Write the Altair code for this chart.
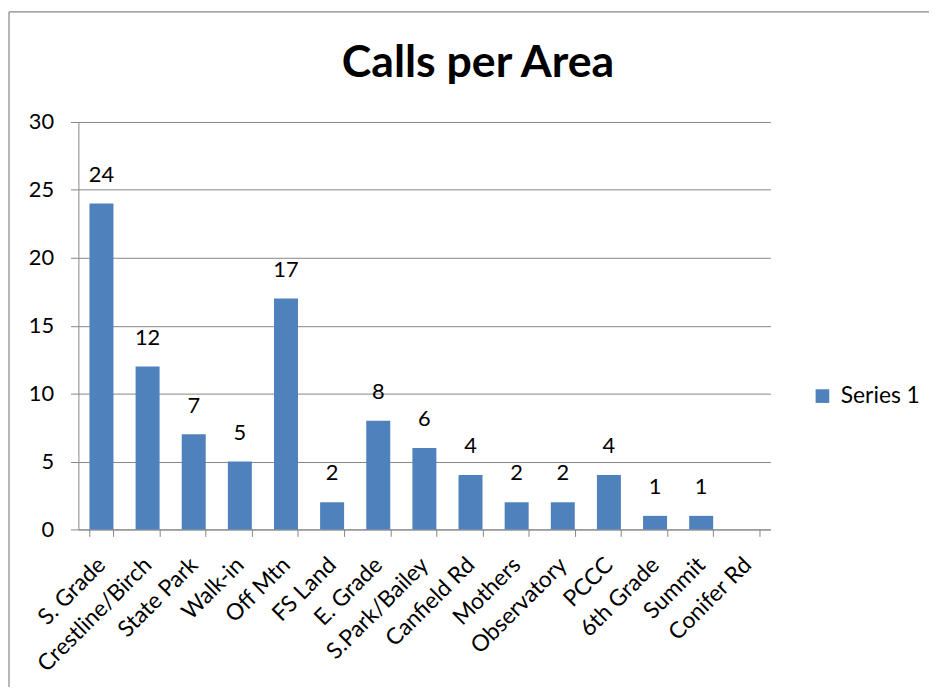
import altair as alt
import pandas as pd

categories = ["S. Grade", "Crestline/Birch", "State Park", "Walk-in", "Off Mtn",
              "FS Land", "E. Grade", "S.Park/Bailey", "Canfield Rd", "Mothers",
              "Observatory", "PCCC", "6th Grade", "Summit", "Conifer Rd"]
calls = [24, 12, 7, 5, 17, 2, 8, 6, 4, 2, 2, 4, 1, 1, None]
series_name = "Series 1"
title_text = "Calls per Area"
y_ticks = [0, 5, 10, 15, 20, 25, 30]

df = pd.DataFrame({"area": categories, "calls": calls, "series": [series_name] * len(categories)})

FONT = "Lato"
GRAY = "#868686"
BLUE = "#4F81BD"

x_enc = alt.X("area:N", sort=categories,
              scale=alt.Scale(domain=categories, paddingInner=0.48, paddingOuter=0.24),
              axis=alt.Axis(title=None, labelAngle=-45, labelAlign="right", labelBaseline="middle",
                            labelFontSize=23, labelFont=FONT, labelColor="black", labelPadding=25,
                            tickBand="extent", tickSize=7, tickColor=GRAY, domainColor=GRAY,
                            grid=False, labelLimit=300))
y_enc = alt.Y("calls:Q",
              scale=alt.Scale(domain=[0, 30], nice=False),
              axis=alt.Axis(title=None, values=y_ticks, labelFontSize=22, labelFont=FONT,
                            labelColor="black", labelPadding=17, tickSize=8, tickColor=GRAY,
                            domainColor=GRAY, gridColor=GRAY, gridOpacity=1))

bars = alt.Chart(df).mark_bar(color=BLUE).encode(
    x=x_enc, y=y_enc,
    color=alt.Color("series:N", scale=alt.Scale(range=[BLUE]),
                    legend=alt.Legend(title=None, orient="none", legendX=739, legendY=265,
                                      symbolType="square", symbolSize=190, symbolStrokeWidth=0,
                                      labelFontSize=23, labelFont=FONT, labelColor="black",
                                      labelOffset=7)),
)

labels = alt.Chart(df).mark_text(baseline="bottom", dy=-17, fontSize=22, font=FONT, color="black").encode(
    x=alt.X("area:N", sort=categories), y="calls:Q", text="calls:Q"
)

frame_df = pd.DataFrame({"k": [0]})
left_line = alt.Chart(frame_df).mark_rule(color=GRAY, strokeWidth=1.2).encode(
    x=alt.value(-70), y=alt.value(-111), y2=alt.value(570))
top_line = alt.Chart(frame_df).mark_rule(color=GRAY, strokeWidth=1.2).encode(
    x=alt.value(-70), x2=alt.value(858), y=alt.value(-111))
title = alt.Chart(frame_df).mark_text(fontSize=45, font=FONT, fontWeight="bold", color="black",
                                      baseline="middle", align="center").encode(
    x=alt.value(403), y=alt.value(-59), text=alt.value(title_text))

chart = alt.layer(left_line, top_line, bars, labels, title).properties(
    width=698, height=411, padding=0
).configure_view(stroke=None)

chart.save("out.html", embed_options={"renderer": "svg", "actions": False})
